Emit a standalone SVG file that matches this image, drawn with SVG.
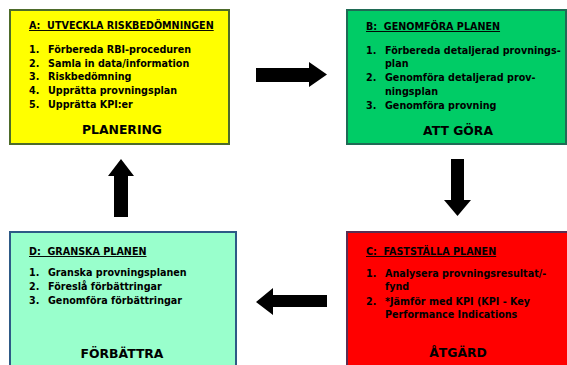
<svg xmlns="http://www.w3.org/2000/svg" width="567" height="365" viewBox="0 0 567 365">
<style>
.t{font-family:"DejaVu Sans",Verdana,sans-serif;font-weight:bold;font-size:9.6px;fill:#000;white-space:pre}
.h{text-decoration:underline}
.big{font-family:"DejaVu Sans",Verdana,sans-serif;font-weight:bold;font-size:12.4px;fill:#000;text-anchor:middle}
.arr{fill:#000}
</style>
<rect width="567" height="365" fill="#fff"/>
<g id="nodeA">
<rect x="10" y="10" width="219" height="134" fill="#ffff00" stroke="#4d6b2a" stroke-width="2"/>
<text class="t h" x="29" y="29" xml:space="preserve">A:  UTVECKLA RISKBEDÖMNINGEN</text>
<text class="t" x="29" y="53">1.</text><text class="t" x="48" y="53">Förbereda RBI-proceduren</text>
<text class="t" x="29" y="67">2.</text><text class="t" x="48" y="67">Samla in data/information</text>
<text class="t" x="29" y="80">3.</text><text class="t" x="48" y="80">Riskbedömning</text>
<text class="t" x="29" y="94">4.</text><text class="t" x="48" y="94">Upprätta provningsplan</text>
<text class="t" x="29" y="108">5.</text><text class="t" x="48" y="108">Upprätta KPI:er</text>
<text class="big" x="122" y="134">PLANERING</text>
</g>
<g id="nodeB">
<rect x="347" y="10" width="219" height="134" fill="#00cc66" stroke="#1f6b55" stroke-width="2"/>
<text class="t h" x="366" y="30" xml:space="preserve">B:  GENOMFÖRA PLANEN</text>
<text class="t" x="366" y="54">1.</text><text class="t" x="385" y="54">Förbereda detaljerad provnings-</text>
<text class="t" x="385" y="67">plan</text>
<text class="t" x="366" y="81">2.</text><text class="t" x="385" y="81">Genomföra detaljerad prov-</text>
<text class="t" x="385" y="95">ningsplan</text>
<text class="t" x="366" y="109">3.</text><text class="t" x="385" y="109">Genomföra provning</text>
<text class="big" x="458" y="135">ATT GÖRA</text>
</g>
<g id="nodeC">
<rect x="347" y="232" width="230" height="140" fill="#ff0000" stroke="#5a2e52" stroke-width="2"/>
<text class="t h" x="366" y="255" xml:space="preserve">C:  FASTSTÄLLA PLANEN</text>
<text class="t" x="366" y="277">1.</text><text class="t" x="385" y="277">Analysera provningsresultat/-</text>
<text class="t" x="385" y="290">fynd</text>
<text class="t" x="366" y="305">2.</text><text class="t" x="385" y="305">*Jämför med KPI (KPI - Key</text>
<text class="t" x="385" y="318">Performance Indications</text>
<text class="big" x="458" y="357">ÅTGÄRD</text>
</g>
<g id="nodeD">
<rect x="10" y="232" width="226" height="140" fill="#99ffcc" stroke="#2d5a86" stroke-width="2"/>
<text class="t h" x="29" y="255" xml:space="preserve">D:  GRANSKA PLANEN</text>
<text class="t" x="29" y="276">1.</text><text class="t" x="48" y="276">Granska provningsplanen</text>
<text class="t" x="29" y="290">2.</text><text class="t" x="48" y="290">Föreslå förbättringar</text>
<text class="t" x="29" y="304">3.</text><text class="t" x="48" y="304">Genomföra förbättringar</text>
<text class="big" x="122" y="358">FÖRBÄTTRA</text>
</g>
<g id="connectors">
<polygon class="arr" points="256,68 309,68 309,62 327,74.5 309,87 309,82 256,82"/>
<polygon class="arr" points="451,159 464,159 464,200 471,200 457.5,216 444,200 451,200"/>
<polygon class="arr" points="327,295 273,295 273,288 256,302 273,315 273,307 327,307"/>
<polygon class="arr" points="114,217 114,176 108,176 121,159 134,176 128,176 128,217"/>
</g>
</svg>
